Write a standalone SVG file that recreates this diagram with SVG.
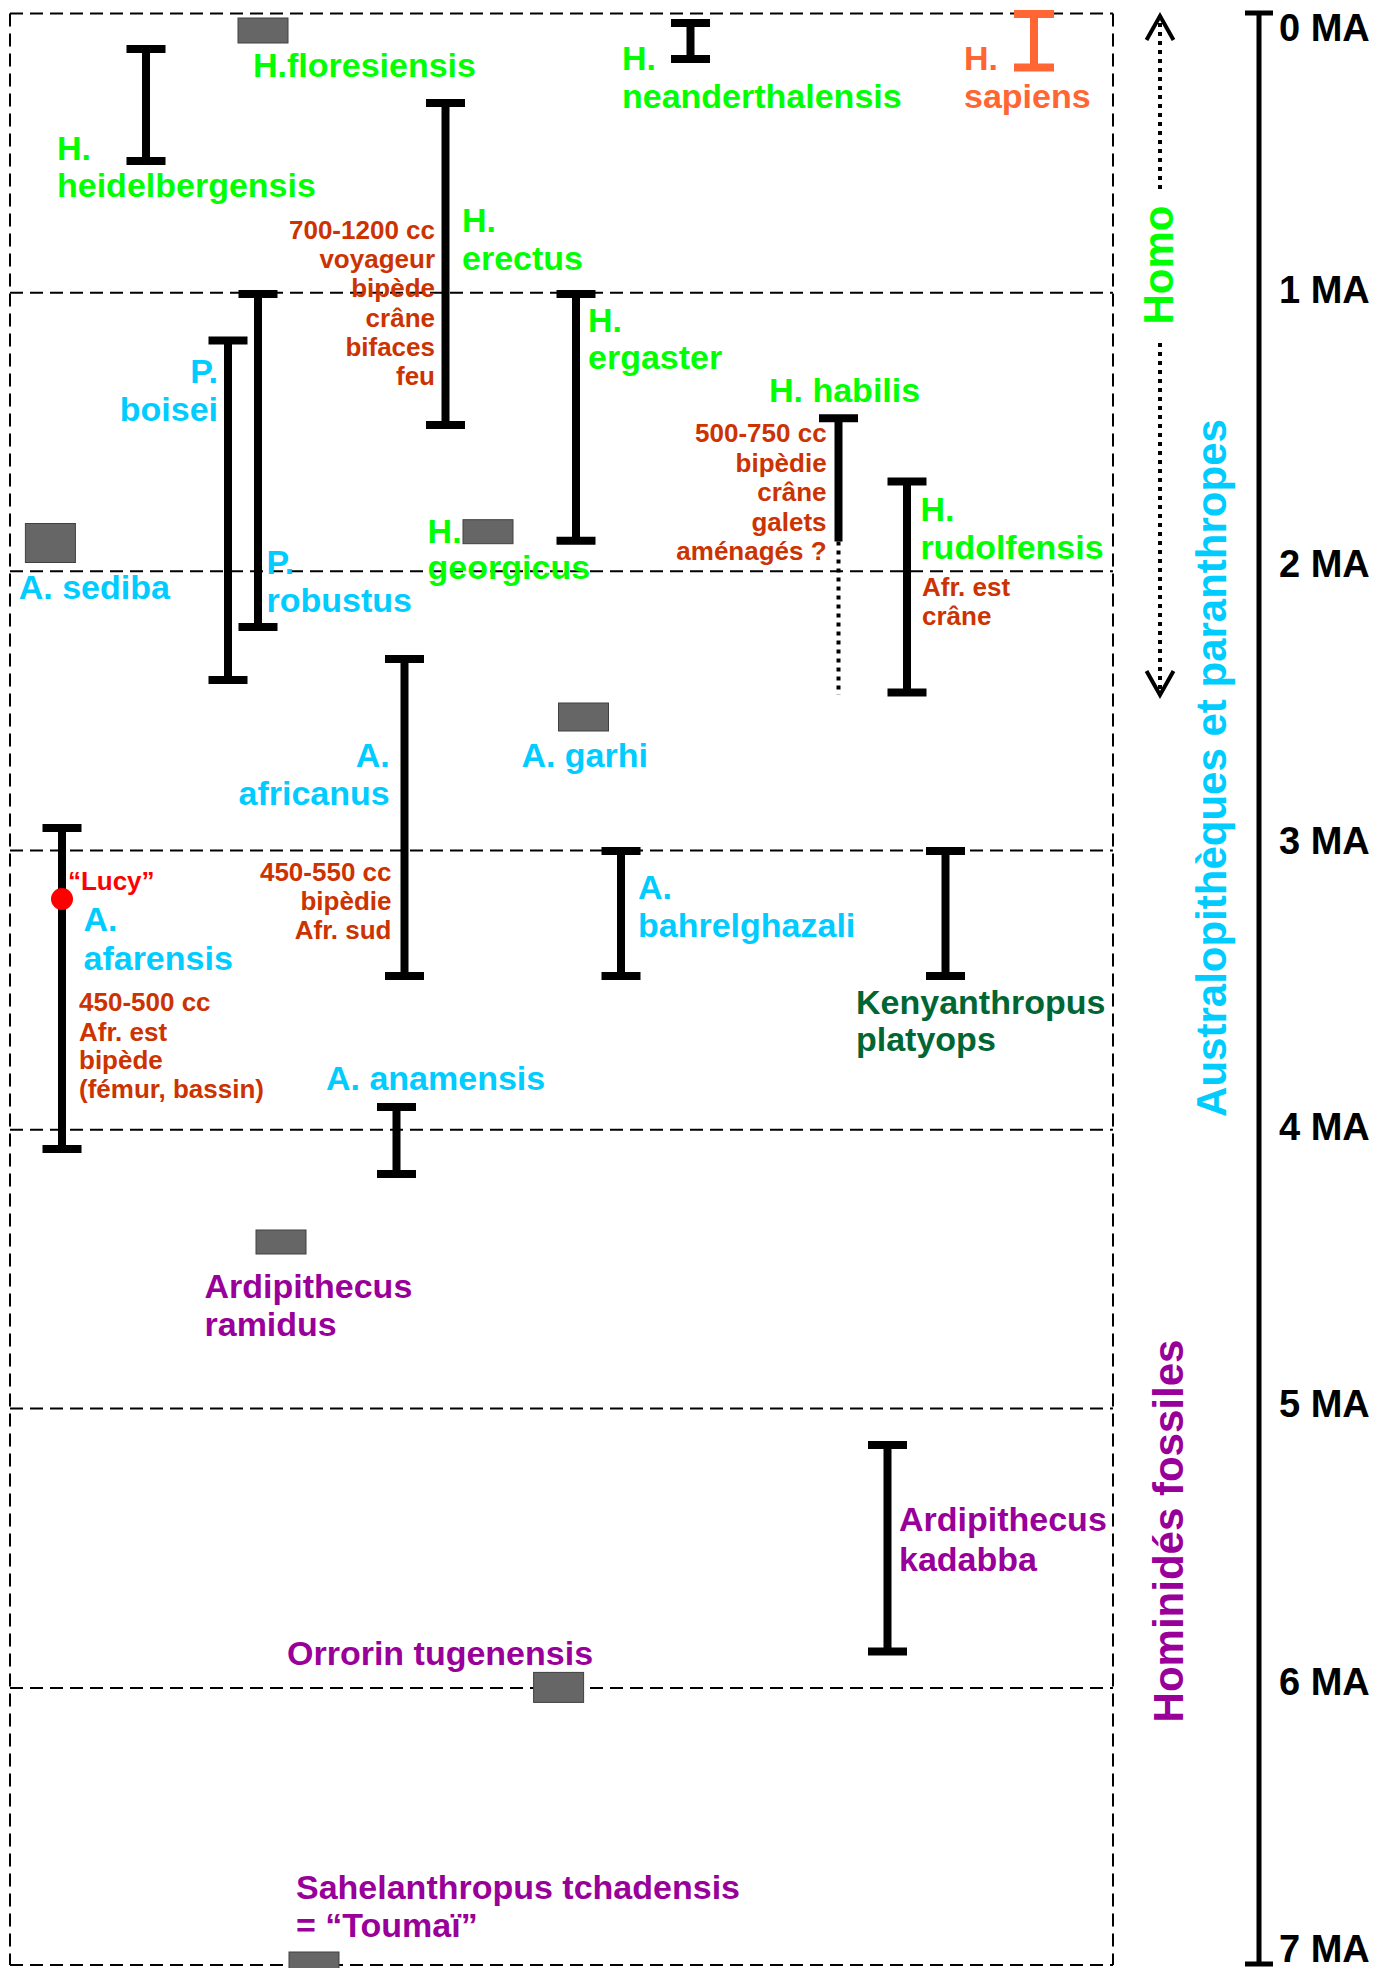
<svg xmlns="http://www.w3.org/2000/svg" width="1395" height="1968" viewBox="0 0 1395 1968">
<style>
text{font-family:"Liberation Sans",Arial,Helvetica,sans-serif;font-weight:bold;font-size:34px}
.g{fill:#00FF00}.b{fill:#00CCFF}.o{fill:#FF6633}.p{fill:#990099}.dg{fill:#006633}
.r{fill:#CC3300;font-size:26px}.lucy{fill:#FF0000;font-size:26px}
.e{text-anchor:end}.m{text-anchor:middle}
.big{font-size:42px}.ax{font-size:38px;fill:#000}
.bar{stroke:#000;stroke-width:8;fill:none}
.fos{fill:#666666;stroke:#404040;stroke-width:1}
.dash{stroke:#000;stroke-width:2;stroke-dasharray:13 7;fill:none}
.dot{stroke:#000;stroke-width:4;stroke-dasharray:4 5;fill:none}
</style>
<defs>
<marker id="chev" markerUnits="userSpaceOnUse" viewBox="-30 -20 40 40" refX="0" refY="0" markerWidth="40" markerHeight="40" orient="auto-start-reverse" overflow="visible">
<path d="M-24,-13.5 L0,0 L-24,13.5" fill="none" stroke="#000" stroke-width="4"/>
</marker>
</defs>
<rect width="1395" height="1968" fill="#fff"/>

<g id="grid">
<path class="dash" d="M10 13.4H1113M10 292.7H1113M10 571.3H1113M10 850.4H1113M10 1129.8H1113M10 1408.5H1113M10 1688H1113M10 1965H1113"/>
<path class="dash" d="M10 13.4V1965M1113 13.4V1965" stroke-width="1.8"/>
</g>

<g id="timescale">
<path d="M1259 13V1965M1245 13H1273M1245 1964H1273" stroke="#000" stroke-width="5" fill="none"/>
<text class="ax" x="1279" y="41">0 MA</text>
<text class="ax" x="1279" y="303">1 MA</text>
<text class="ax" x="1279" y="577">2 MA</text>
<text class="ax" x="1279" y="854">3 MA</text>
<text class="ax" x="1279" y="1140">4 MA</text>
<text class="ax" x="1279" y="1417">5 MA</text>
<text class="ax" x="1279" y="1695">6 MA</text>
<text class="ax" x="1279" y="1962">7 MA</text>
</g>

<g id="connectors">
<path class="dot" d="M1160 189V16" marker-end="url(#chev)"/>
<path class="dot" d="M1160 343V695" marker-end="url(#chev)"/>
</g>

<g id="group-labels">
<text class="g big m" transform="translate(1173,265) rotate(-90)">Homo</text>
<text class="b big m" transform="translate(1226,768) rotate(-90)">Australopithèques et paranthropes</text>
<text class="p big m" transform="translate(1183,1531) rotate(-90)">Hominidés fossiles</text>
</g>

<g id="floresiensis">
<rect class="fos" x="238" y="18" width="50" height="25"/>
<text class="g" x="253" y="76.5">H.floresiensis</text>
</g>

<g id="heidelbergensis">
<path class="bar" d="M126.5 49H165.5M146 49V161M126.5 161H165.5"/>
<text class="g" x="57" y="159.6">H.</text>
<text class="g" x="57" y="197">heidelbergensis</text>
</g>

<g id="neanderthalensis">
<path class="bar" d="M671 23H710M690.5 23V59M671 59H710"/>
<text class="g" x="622" y="69.7">H.</text>
<text class="g" x="622" y="108">neanderthalensis</text>
</g>

<g id="sapiens">
<path class="bar" style="stroke:#FF6633" d="M1014 14H1054M1034 14V67.5M1014 67.5H1054"/>
<text class="o" x="964" y="69.7">H.</text>
<text class="o" x="964" y="108">sapiens</text>
</g>

<g id="erectus">
<path class="bar" d="M426 103H465M445.5 103V425M426 425H465"/>
<text class="g" x="462" y="231.5">H.</text>
<text class="g" x="462" y="270">erectus</text>
<text class="r e" x="435" y="239">700-1200 cc</text>
<text class="r e" x="435" y="268">voyageur</text>
<text class="r e" x="435" y="297">bipède</text>
<text class="r e" x="435" y="327">crâne</text>
<text class="r e" x="435" y="356">bifaces</text>
<text class="r e" x="435" y="385">feu</text>
</g>

<g id="ergaster">
<path class="bar" d="M556.5 294H595.5M576 294V540.7M556.5 540.7H595.5"/>
<text class="g" x="588" y="332">H.</text>
<text class="g" x="588" y="369">ergaster</text>
</g>

<g id="habilis">
<path class="bar" d="M819 418.3H858M838.5 418.3V541.5"/>
<path class="dot" d="M838.5 541.5V694.7"/>
<text class="g" x="769" y="401.8">H. habilis</text>
<text class="r e" x="826.6" y="442">500-750 cc</text>
<text class="r e" x="826.6" y="471.5">bipèdie</text>
<text class="r e" x="826.6" y="501">crâne</text>
<text class="r e" x="826.6" y="531">galets</text>
<text class="r e" x="826.6" y="559.5">aménagés ?</text>
</g>

<g id="rudolfensis">
<path class="bar" d="M887.5 481.4H926.5M907 481.4V692.4M887.5 692.4H926.5"/>
<text class="g" x="920.4" y="521">H.</text>
<text class="g" x="920.4" y="558.7">rudolfensis</text>
<text class="r" x="922" y="596">Afr. est</text>
<text class="r" x="922" y="624.6">crâne</text>
</g>

<g id="georgicus">
<rect class="fos" x="463" y="519.7" width="50" height="24"/>
<text class="g" x="427.6" y="542.7">H.</text>
<text class="g" x="427.6" y="578.5">georgicus</text>
</g>

<g id="boisei">
<path class="bar" d="M208.5 340.6H247.5M228 340.6V680M208.5 680H247.5"/>
<text class="b e" x="218" y="382.7">P.</text>
<text class="b e" x="218" y="421">boisei</text>
</g>

<g id="robustus">
<path class="bar" d="M238.5 294H277.5M258 294V627M238.5 627H277.5"/>
<text class="b" x="266.5" y="574">P.</text>
<text class="b" x="266.5" y="612">robustus</text>
</g>

<g id="sediba">
<rect class="fos" x="25.4" y="523.5" width="50" height="39"/>
<text class="b" x="18.7" y="598.6">A. sediba</text>
</g>

<g id="garhi">
<rect class="fos" x="558.5" y="703" width="50" height="28"/>
<text class="b" x="521.4" y="767.4">A. garhi</text>
</g>

<g id="africanus">
<path class="bar" d="M385 659H424M404.5 659V976M385 976H424"/>
<text class="b e" x="389.7" y="767.4">A.</text>
<text class="b e" x="389.7" y="804.5">africanus</text>
<text class="r e" x="391.5" y="881">450-550 cc</text>
<text class="r e" x="391.5" y="910">bipèdie</text>
<text class="r e" x="391.5" y="939">Afr. sud</text>
</g>

<g id="afarensis">
<path class="bar" d="M42.5 828H81.5M62 828V1149M42.5 1149H81.5"/>
<circle cx="62" cy="899" r="11" fill="#FF0000"/>
<text class="lucy" x="67.9" y="889.8">“Lucy”</text>
<text class="b" x="83.5" y="930.8">A.</text>
<text class="b" x="83.5" y="969.8">afarensis</text>
<text class="r" x="79" y="1011">450-500 cc</text>
<text class="r" x="79" y="1040.6">Afr. est</text>
<text class="r" x="79" y="1069">bipède</text>
<text class="r" x="79" y="1098">(fémur, bassin)</text>
</g>

<g id="bahrelghazali">
<path class="bar" d="M601.5 851H640.5M621 851V976M601.5 976H640.5"/>
<text class="b" x="638" y="899">A.</text>
<text class="b" x="638" y="936.5">bahrelghazali</text>
</g>

<g id="kenyanthropus">
<path class="bar" d="M926 851H965M945.5 851V976M926 976H965"/>
<text class="dg" x="856" y="1013.8">Kenyanthropus</text>
<text class="dg" x="856" y="1051.4">platyops</text>
</g>

<g id="anamensis">
<path class="bar" d="M377 1107H416M396.5 1107V1174M377 1174H416"/>
<text class="b" x="326" y="1089.6">A. anamensis</text>
</g>

<g id="ramidus">
<rect class="fos" x="256" y="1230" width="50" height="24"/>
<text class="p" x="204.5" y="1297.8">Ardipithecus</text>
<text class="p" x="204.5" y="1336">ramidus</text>
</g>

<g id="kadabba">
<path class="bar" d="M868 1445H907M887.5 1445V1651.6M868 1651.6H907"/>
<text class="p" x="899" y="1531.4">Ardipithecus</text>
<text class="p" x="899" y="1571">kadabba</text>
</g>

<g id="orrorin">
<rect class="fos" x="533.6" y="1672.4" width="50" height="30"/>
<text class="p" x="287" y="1664.7">Orrorin tugenensis</text>
</g>

<g id="sahelanthropus">
<rect class="fos" x="289" y="1952" width="50" height="30"/>
<text class="p" x="296" y="1899">Sahelanthropus tchadensis</text>
<text class="p" x="296" y="1937">= “Toumaï”</text>
</g>
</svg>
